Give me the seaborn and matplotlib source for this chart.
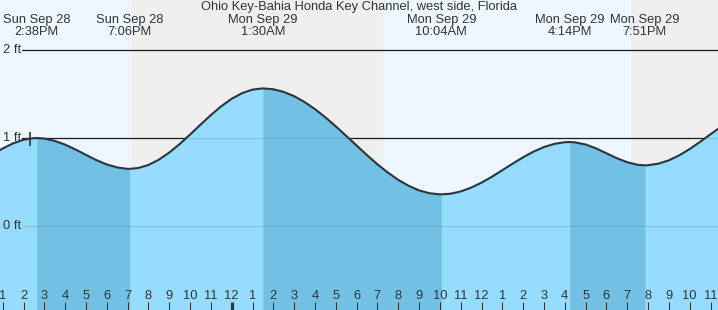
import numpy as np
import pandas as pd
import matplotlib
matplotlib.use("Agg")
import matplotlib.pyplot as plt
import seaborn as sns

# ---------------- data ----------------
title = "Ohio Key-Bahia Honda Key Channel, west side, Florida"

# half-hourly tide heights (ft), hours counted from Sun Sep 28 00:00
hours = [12.0, 12.5, 13.0, 13.5, 14.0, 14.5, 15.0, 15.5, 16.0, 16.5, 17.0,
         17.5, 18.0, 18.5, 19.0, 19.5, 20.0, 20.5, 21.0, 21.5, 22.0, 22.5,
         23.0, 23.5, 24.0, 24.5, 25.0, 26.0, 26.5, 27.0, 27.5, 28.0, 28.5,
         29.0, 29.5, 30.0, 30.5, 31.0, 31.5, 32.0, 32.5, 33.0, 33.5, 34.0,
         34.5, 35.0, 35.5, 36.0, 36.5, 37.0, 37.5, 38.0, 38.5, 39.0, 39.5,
         40.0, 40.5, 41.0, 41.5, 42.0, 42.5, 43.0, 43.5, 44.0, 44.5, 45.0,
         45.5, 46.0, 46.5, 47.0, 47.5, 48.0]
heights = [0.732, 0.810, 0.882, 0.940, 0.981, 0.999, 0.994, 0.968, 0.925,
           0.870, 0.809, 0.749, 0.700, 0.666, 0.650, 0.659, 0.694, 0.754,
           0.835, 0.932, 1.040, 1.152, 1.262, 1.362, 1.447, 1.511, 1.551,
           1.555, 1.525, 1.476, 1.410, 1.329, 1.236, 1.133, 1.025, 0.915,
           0.806, 0.702, 0.608, 0.525, 0.457, 0.405, 0.373, 0.360, 0.367,
           0.393, 0.436, 0.493, 0.560, 0.635, 0.710, 0.782, 0.846, 0.898,
           0.934, 0.953, 0.951, 0.927, 0.883, 0.827, 0.771, 0.725, 0.696,
           0.691, 0.709, 0.747, 0.804, 0.875, 0.957, 1.043, 1.128, 1.207]

# high / low tides
extreme_times = [14.633, 19.1, 25.5, 34.067, 40.233, 43.85]
extreme_heights = [1.0, 0.65, 1.565, 0.36, 0.955, 0.69]
extreme_labels = ["Sun Sep 28\n2:38PM", "Sun Sep 28\n7:06PM",
                  "Mon Sep 29\n1:30AM", "Mon Sep 29\n10:04AM",
                  "Mon Sep 29\n4:14PM", "Mon Sep 29\n7:51PM"]

# sunset / sunrise
night_spans = [(19.21, 31.27), (43.19, 50.0)]

now_hour = 14.31
y_ticks = [0, 1, 2]
y_tick_labels = ["0 ft", "1 ft", "2 ft"]
hour_ticks = list(range(13, 48))

# ---------------- style ----------------
W, H = 718, 310
x0, x1 = 12.87, 47.36
y0, y1 = -0.955, 2.57
day_bg = "#eef7ff"
night_bg = "#efefef"
water = "#95dcfe"
water_dark = "#72c1e4"
ink = "#333333"
fs = 9.3

sns.set_style("white")
plt.rcParams["font.family"] = ["Liberation Sans", "DejaVu Sans"]

fig = plt.figure(figsize=(W / 100, H / 100), dpi=100)
ax = fig.add_axes([0, 0, 1, 1])
ax.set_xlim(x0, x1)
ax.set_ylim(y0, y1)
ax.axis("off")

# background
ax.axvspan(x0 - 5, x1 + 5, color=day_bg, zorder=0, lw=0)
for a, b in night_spans:
    ax.axvspan(a, b, color=night_bg, zorder=0, lw=0)

# gridlines (dark above water)
for yv in y_ticks:
    ax.axhline(yv, xmin=22 / W, xmax=1, color="#222222", lw=0.9, zorder=1)

# curve data
df = pd.DataFrame({"hour": hours + extreme_times,
                   "height": heights + extreme_heights})
df = df.sort_values("hour").drop_duplicates("hour").reset_index(drop=True)

ax.fill_between(df["hour"], df["height"], y0 - 1, color=water, lw=0, zorder=2)
for i in range(len(extreme_times) - 1):
    if extreme_heights[i] > extreme_heights[i + 1]:
        m = (df["hour"] >= extreme_times[i]) & (df["hour"] <= extreme_times[i + 1])
        seg = df[m]
        ax.fill_between(seg["hour"], seg["height"], y0 - 1, color=water_dark,
                        lw=0, zorder=2)

# faint gridlines in water
for yv in y_ticks:
    ax.axhline(yv, xmin=22 / W, xmax=1, color="#000000", alpha=0.1, lw=0.9, zorder=3)

sns.lineplot(data=df, x="hour", y="height", ax=ax, color=ink, lw=1.5,
             estimator=None, sort=True, zorder=4)
ax.set_xlabel("")
ax.set_ylabel("")

# now marker
now_h = np.interp(now_hour, df["hour"], df["height"])
ax.plot([now_hour], [now_h], marker="|", ms=10, mew=1.2, color=ink, zorder=5)

# y labels
for yv, lab in zip(y_ticks, y_tick_labels):
    ax.text(3 / W, yv, lab, transform=ax.get_yaxis_transform(), ha="left",
            va="center", fontsize=fs, color=ink, zorder=6)

# title and extreme labels
ax.text(0.5, 1 - 7 / H, title, transform=ax.transAxes, ha="center",
        va="center", fontsize=fs, color=ink, zorder=6)
for t, lab in zip(extreme_times, extreme_labels):
    ax.text(t, 1 - 26 / H, lab, transform=ax.get_xaxis_transform(),
            ha="center", va="center", fontsize=fs, color=ink,
            linespacing=0.95, zorder=6)

# hour ticks
for h in hour_ticks:
    lab = str((h - 1) % 12 + 1)
    ax.text(h, 14 / H, lab, transform=ax.get_xaxis_transform(), ha="center",
            va="center", fontsize=fs, color=ink, zorder=6)
    lw = 3 if h % 24 == 0 else 1
    ax.plot([h, h], [0, 8 / H], transform=ax.get_xaxis_transform(),
            color=ink, lw=lw * 0.75, solid_capstyle="butt", zorder=6)

fig.savefig("out.png", dpi=100)
